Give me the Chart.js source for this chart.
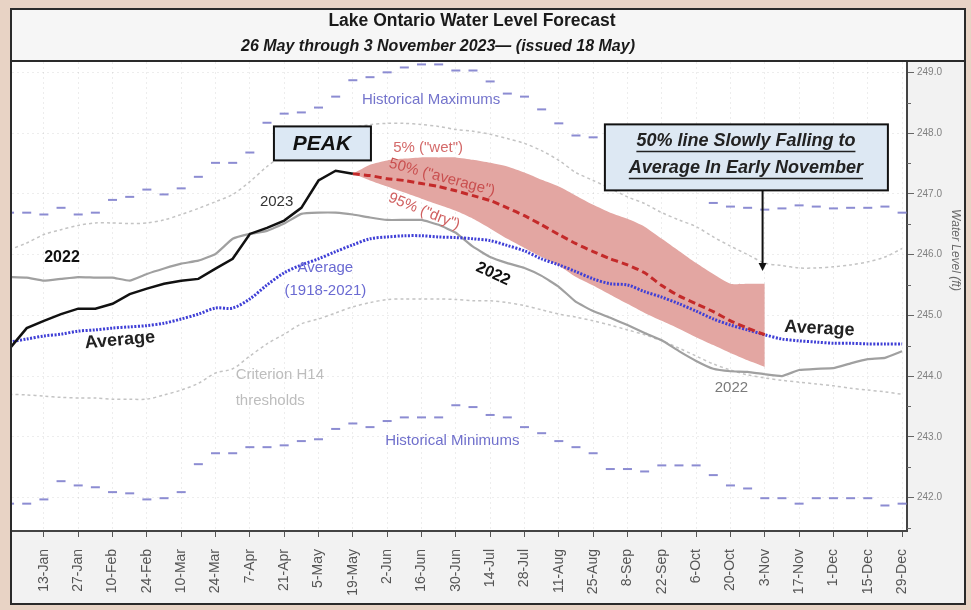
<!DOCTYPE html>
<html>
<head>
<meta charset="utf-8">
<script src="https://cdn.jsdelivr.net/npm/chart.js@4.4.1/dist/chart.umd.min.js"></script>
<style>
html,body{margin:0;padding:0;background:#e8d3c5;overflow:hidden;}
canvas{display:block;}
</style>
</head>
<body>
<canvas id="c" width="971" height="610"></canvas>
<script>
// ---- Data (day of year 2023 for weekly values; water level in ft) ----
const weekDays = [-1,6,13,20,27,34,41,48,55,62,69,76,83,90,97,104,111,118,125,132,139,146,153,160,167,174,181,188,195,202,209,216,223,230,237,244,251,258,265,272,279,286,293,300,307,314,321,328,335,342,349,356,363];
const tickDays = [13,27,41,55,69,83,97,111,125,139,153,167,181,195,209,223,237,251,265,279,293,307,321,335,349,363];
const tickLabels = ["13-Jan","27-Jan","10-Feb","24-Feb","10-Mar","24-Mar","7-Apr","21-Apr","5-May","19-May","2-Jun","16-Jun","30-Jun","14-Jul","28-Jul","11-Aug","25-Aug","8-Sep","22-Sep","6-Oct","20-Oct","3-Nov","17-Nov","1-Dec","15-Dec","29-Dec"];
const levelTicks = [241.5,242,242.5,243,243.5,244,244.5,245,245.5,246,246.5,247,247.5,248,248.5,249];

const level2023 = [244.45,244.79,244.91,245.02,245.11,245.11,245.19,245.35,245.44,245.52,245.57,245.60,245.77,245.93,246.34,246.44,246.56,246.77,247.22,247.38,247.33];
const level2022 = [245.63,245.62,245.57,245.60,245.63,245.62,245.62,245.57,245.68,245.77,245.85,245.90,246.01,246.26,246.34,246.39,246.51,246.67,246.69,246.69,246.66,246.61,246.57,246.57,246.57,246.49,246.36,246.13,245.96,245.86,245.78,245.65,245.47,245.22,245.07,244.96,244.84,244.71,244.59,244.41,244.25,244.12,244.08,244.07,244.03,244.00,244.10,244.12,244.13,244.21,244.28,244.30,244.41];
const average = [244.56,244.61,244.66,244.69,244.74,244.76,244.79,244.81,244.83,244.87,244.94,245.02,245.12,245.12,245.27,245.50,245.70,245.83,245.93,246.05,246.16,246.26,246.29,246.31,246.31,246.29,246.28,246.26,246.23,246.15,246.06,245.93,245.83,245.72,245.60,245.52,245.50,245.39,245.30,245.19,245.07,244.94,244.84,244.76,244.68,244.61,244.58,244.56,244.54,244.54,244.53,244.53,244.53];
// forecasts start at week index 20 (19-May)
const forecastStart = 20;
const forecast50 = [247.33,247.30,247.25,247.22,247.17,247.12,247.05,246.97,246.89,246.77,246.64,246.49,246.33,246.18,246.05,245.93,245.83,245.70,245.49,245.32,245.19,245.06,244.91,244.79,244.68];
const forecast5 = [247.33,247.48,247.55,247.58,247.60,247.60,247.60,247.56,247.51,247.45,247.35,247.23,247.12,246.97,246.82,246.69,246.59,246.46,246.26,246.06,245.86,245.68,245.52,245.52,245.52];
const forecast95 = [247.33,247.22,247.12,247.02,246.92,246.82,246.72,246.59,246.43,246.26,246.11,245.96,245.82,245.63,245.49,245.34,245.19,245.04,244.91,244.78,244.64,244.51,244.38,244.26,244.15];
const h14Upper = [246.08,246.19,246.33,246.41,246.48,246.52,246.52,246.51,246.52,246.57,246.66,246.76,246.87,246.99,247.20,247.45,247.65,247.81,247.94,248.03,248.09,248.14,248.16,248.16,248.14,248.11,248.06,248.03,247.98,247.91,247.83,247.71,247.55,247.35,247.22,247.09,246.95,246.84,246.69,246.57,246.46,246.29,246.14,246.00,245.86,245.82,245.78,245.78,245.80,245.83,245.88,245.96,246.10];
const h14Lower = [243.70,243.69,243.67,243.65,243.64,243.64,243.62,243.62,243.62,243.69,243.77,243.88,244.05,244.12,244.33,244.53,244.69,244.86,244.94,245.04,245.14,245.21,245.26,245.27,245.27,245.27,245.26,245.24,245.24,245.21,245.16,245.09,245.02,244.97,244.91,244.84,244.76,244.68,244.58,244.46,244.33,244.20,244.10,244.02,243.97,243.93,243.90,243.87,243.84,243.80,243.77,243.74,243.70];
const histMax = [246.69,246.69,246.66,246.77,246.66,246.69,246.90,246.95,247.07,246.99,247.09,247.28,247.51,247.51,247.68,248.17,248.32,248.34,248.42,248.60,248.87,248.92,249.00,249.08,249.13,249.13,249.03,249.03,248.85,248.65,248.60,248.39,248.16,247.96,247.93,247.88,247.72,247.55,247.38,247.25,247.12,246.85,246.79,246.77,246.74,246.76,246.81,246.79,246.76,246.77,246.77,246.79,246.69];
const histMin = [241.90,241.90,241.97,242.27,242.20,242.17,242.09,242.07,241.97,241.99,242.09,242.55,242.73,242.73,242.83,242.83,242.86,242.93,242.96,243.13,243.22,243.16,243.26,243.32,243.32,243.32,243.52,243.49,243.36,243.32,243.16,243.06,242.93,242.83,242.73,242.47,242.47,242.43,242.53,242.53,242.53,242.37,242.20,242.15,241.99,241.99,241.90,241.99,241.99,241.99,241.99,241.87,241.90];

const FONT = "'Liberation Sans', Arial, sans-serif";
const pts = (vals, start = 0) => vals.map((v, i) => ({ x: weekDays[start + i], y: v }));
const isWhole = v => Math.abs(v - Math.round(v)) < 1e-6;

// ---- Plugins: frame/background, annotations, titles ----
const framePlugin = {
  id: 'frame',
  beforeDraw(chart) {
    const { ctx, chartArea: a, width, height } = chart;
    ctx.save();
    ctx.fillStyle = '#e8d3c5';
    ctx.fillRect(0, 0, width, height);
    ctx.fillStyle = '#f2f2f2';
    ctx.fillRect(10, 8, 956, 597);
    ctx.fillStyle = '#f6f6f6';
    ctx.fillRect(10, 8, 956, 53);
    ctx.fillStyle = '#ffffff';
    ctx.fillRect(a.left, a.top, a.right - a.left, a.bottom - a.top);
    ctx.restore();
  },
  afterDraw(chart) {
    const { ctx, chartArea: a } = chart;
    const ys = chart.scales.y;
    ctx.save();
    // minor (half-foot) ticks on the right axis
    ctx.strokeStyle = '#666666';
    ctx.lineWidth = 1;
    levelTicks.filter(v => !isWhole(v)).forEach(v => {
      const y = Math.round(ys.getPixelForValue(v)) + 0.5;
      ctx.beginPath(); ctx.moveTo(a.right, y); ctx.lineTo(a.right + 4, y); ctx.stroke();
    });
    ctx.strokeStyle = '#2a2a2a';
    ctx.lineWidth = 2;
    ctx.strokeRect(11, 9, 954, 595);
    ctx.beginPath();
    ctx.moveTo(11, a.top - 1); ctx.lineTo(965, a.top - 1);
    ctx.stroke();
    // titles
    ctx.fillStyle = '#1a1a1a';
    ctx.textAlign = 'center';
    ctx.textBaseline = 'middle';
    ctx.font = `bold 17.5px ${FONT}`;
    ctx.fillText('Lake Ontario Water Level Forecast', 472, 21);
    ctx.font = `italic bold 16px ${FONT}`;
    ctx.fillText('26 May through 3 November 2023\u2014 (issued 18 May)', 438, 47);
    // y axis title
    ctx.translate(955, 250);
    ctx.rotate(Math.PI / 2);
    ctx.font = `italic 12px ${FONT}`;
    ctx.fillStyle = '#6a6a6a';
    ctx.fillText('Water Level (ft)', 0, 0);
    ctx.restore();
  }
};

const notesPlugin = {
  id: 'notes',
  afterDatasetsDraw(chart) {
    const ctx = chart.ctx, xs = chart.scales.x, ys = chart.scales.y;
    const X = d => xs.getPixelForValue(d), Y = v => ys.getPixelForValue(v);
    const T = (s, d, v, font, color, rot = 0, align = 'center') => {
      ctx.save();
      ctx.translate(X(d), Y(v));
      ctx.rotate(rot * Math.PI / 180);
      ctx.font = `${font} ${FONT}`;
      ctx.fillStyle = color;
      ctx.textAlign = align;
      ctx.textBaseline = 'middle';
      ctx.fillText(s, 0, 0);
      ctx.restore();
    };
    T('Historical Maximums', 170.9, 248.54, '15px', '#7474cc');
    T('Historical Minimums', 152.2, 242.93, '15px', '#7070cc', 0, 'left');
    T('2023', 107.9, 246.87, '15px', '#333333');
    T('2022', 20.4, 245.95, 'bold 16px', '#111111');
    T('Average', 44.0, 244.59, 'bold 18px', '#222222', -5);
    T('Average', 127.8, 245.78, '15px', '#6a6ad2');
    T('(1918-2021)', 127.8, 245.40, '15px', '#6a6ad2');
    T('5% ("wet")', 169.7, 247.75, '15px', '#d46a6a');
    T('50% ("average")', 175.4, 247.27, '15px', '#c94f4f', 15);
    T('95% ("dry")', 168.1, 246.71, '15px', '#d06060', 22);
    T('2022', 196.2, 245.68, 'bold 16px', '#111111', 25);
    T('Average', 329.3, 244.78, 'bold 18px', '#222222', 3);
    T('2022', 293.4, 243.80, '15px', '#7a7a7a');
    T('Criterion H14', 91.2, 244.02, '15px', '#bdbdbd', 0, 'left');
    T('thresholds', 91.2, 243.59, '15px', '#bdbdbd', 0, 'left');

    // PEAK box
    ctx.save();
    let cx = X(126.4), cy = Y(247.83);
    ctx.fillStyle = '#dce8f4';
    ctx.fillRect(cx - 48, cy - 17, 97, 34);
    ctx.strokeStyle = '#111'; ctx.lineWidth = 2;
    ctx.strokeRect(cx - 48, cy - 17, 97, 34);
    ctx.fillStyle = '#111';
    ctx.font = `italic bold 21px ${FONT}`;
    ctx.textAlign = 'center'; ctx.textBaseline = 'middle';
    ctx.fillText('PEAK', cx, cy + 1);

    // 50% box
    cx = X(299.3); cy = Y(247.60);
    ctx.fillStyle = '#dde8f3';
    ctx.fillRect(cx - 141, cy - 33, 283, 66);
    ctx.strokeRect(cx - 141, cy - 33, 283, 66);
    ctx.fillStyle = '#222';
    ctx.strokeStyle = '#222';
    ctx.font = `italic bold 18px ${FONT}`;
    const lines = ['50% line Slowly Falling to', 'Average In Early November'];
    [-16, 11].forEach((off, i) => {
      ctx.fillText(lines[i], cx, cy + off);
      const w = ctx.measureText(lines[i]).width;
      ctx.lineWidth = 1.5;
      ctx.beginPath();
      ctx.moveTo(cx - w / 2, cy + off + 10);
      ctx.lineTo(cx + w / 2, cy + off + 10);
      ctx.stroke();
    });
    // arrow
    const ax = X(306.1), ay0 = cy + 33, ay1 = Y(245.73);
    ctx.strokeStyle = '#111'; ctx.lineWidth = 2;
    ctx.beginPath(); ctx.moveTo(ax, ay0); ctx.lineTo(ax, ay1 - 6); ctx.stroke();
    ctx.fillStyle = '#111';
    ctx.beginPath(); ctx.moveTo(ax - 4, ay1 - 8); ctx.lineTo(ax + 4, ay1 - 8); ctx.lineTo(ax, ay1); ctx.closePath(); ctx.fill();
    ctx.restore();
  }
};

new Chart(document.getElementById('c'), {
  type: 'line',
  data: {
    datasets: [
      { label: '2023', data: pts(level2023), borderColor: '#111111', borderWidth: 2.5, pointRadius: 0, tension: 0, order: 0 },
      { label: '50% forecast', data: pts(forecast50, forecastStart), borderColor: '#c42a2a', borderWidth: 3, borderDash: [7, 4], pointRadius: 0, tension: 0.2, order: 1 },
      { label: 'Average (1918-2021)', data: pts(average), borderColor: '#3f3fd6', borderWidth: 3, borderDash: [2, 1.5], pointRadius: 0, tension: 0.3, order: 2 },
      { label: '2022', data: pts(level2022), borderColor: '#a0a0a0', borderWidth: 2.2, pointRadius: 0, tension: 0.1, order: 3 },
      { label: 'H14 upper', data: pts(h14Upper), borderColor: '#c4c4c4', borderWidth: 1.5, borderDash: [3, 3], pointRadius: 0, tension: 0.3, order: 4 },
      { label: 'H14 lower', data: pts(h14Lower), borderColor: '#c4c4c4', borderWidth: 1.5, borderDash: [3, 3], pointRadius: 0, tension: 0.3, order: 5 },
      { label: 'Historical max', data: pts(histMax), showLine: false, pointStyle: 'line', pointRadius: 4.5, pointBorderWidth: 2, pointBorderColor: '#8c8cd2', pointBackgroundColor: '#8c8cd2', order: 6 },
      { label: 'Historical min', data: pts(histMin), showLine: false, pointStyle: 'line', pointRadius: 4.5, pointBorderWidth: 2, pointBorderColor: '#8c8cd2', pointBackgroundColor: '#8c8cd2', order: 7 },
      { label: '5% (wet)', data: pts(forecast5, forecastStart), borderWidth: 0, borderColor: 'rgba(0,0,0,0)', pointRadius: 0, fill: '+1', backgroundColor: '#e3a6a2', tension: 0.2, order: 8 },
      { label: '95% (dry)', data: pts(forecast95, forecastStart), borderWidth: 0, borderColor: 'rgba(0,0,0,0)', pointRadius: 0, tension: 0.2, order: 9 }
    ]
  },
  options: {
    responsive: false,
    animation: false,
    devicePixelRatio: 1,
    layout: { padding: { left: 12, top: 62, right: 6, bottom: 0 } },
    plugins: {
      legend: { display: false },
      tooltip: { enabled: false },
      title: { display: false },
      filler: { drawTime: 'beforeDatasetsDraw' }
    },
    scales: {
      x: {
        type: 'linear',
        position: 'bottom',
        min: 0,
        max: 365,
        afterBuildTicks: s => { s.ticks = tickDays.map(v => ({ value: v })); },
        afterFit: s => { s.height = 79; },
        ticks: {
          autoSkip: false,
          minRotation: 90,
          maxRotation: 90,
          padding: 12,
          color: '#555555',
          font: { family: FONT, size: 14 },
          callback: (v, i) => tickLabels[i]
        },
        grid: { color: 'rgba(0,0,0,0.07)', tickColor: '#555555', tickLength: 6, lineWidth: 1 },
        border: { display: true, color: '#444444', width: 2, dash: [2, 3] }
      },
      y: {
        type: 'linear',
        position: 'right',
        min: 241.45,
        max: 249.17,
        afterBuildTicks: s => { s.ticks = levelTicks.map(v => ({ value: v })); },
        afterFit: s => { s.width = 58; },
        ticks: {
          padding: 3,
          color: '#808080',
          font: { family: FONT, size: 10 },
          callback: v => isWhole(v) ? v.toFixed(1) : ''
        },
        grid: {
          color: c => (c.tick && isWhole(c.tick.value)) ? 'rgba(0,0,0,0.07)' : 'rgba(0,0,0,0)',
          tickColor: c => (c.tick && isWhole(c.tick.value)) ? '#666666' : 'rgba(0,0,0,0)',
          tickLength: 7, lineWidth: 1
        },
        border: { display: true, color: '#444444', width: 2, dash: [2, 3] }
      }
    }
  },
  plugins: [framePlugin, notesPlugin]
});
</script>
</body>
</html>
